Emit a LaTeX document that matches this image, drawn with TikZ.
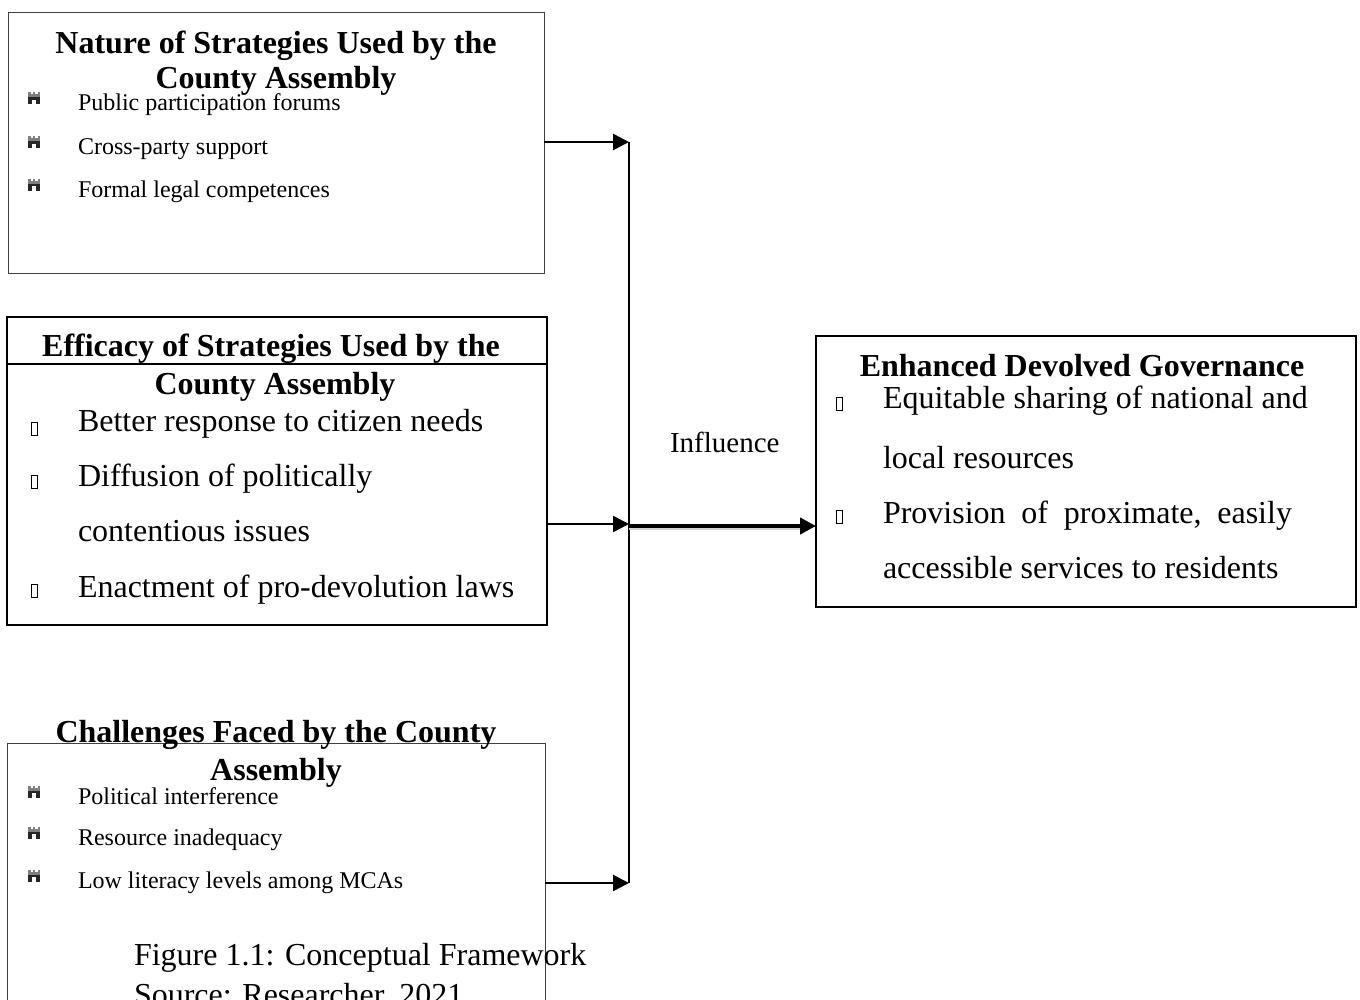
\documentclass[tikz,border=0pt]{standalone}
\usepackage{fontspec}
\setmainfont{Liberation Serif}
\usetikzlibrary{arrows.meta}
\newcommand\ttl{\fontsize{32}{36}\selectfont\bfseries}
\newcommand\bigtxt{\fontsize{32}{36}\selectfont}
\newcommand\smalltxt{\fontsize{24}{28}\selectfont}
\tikzset{
  thinbox/.style={draw=black!75, line width=1pt, inner sep=0pt, outer sep=0pt, anchor=north west},
  thickbox/.style={draw=black, line width=2pt, inner sep=0pt, outer sep=0pt, anchor=north west},
  txt/.style={anchor=base west, inner sep=0pt, outer sep=0pt},
  ctitle/.style={anchor=base, inner sep=0pt, outer sep=0pt, font=\ttl},
  arr/.style={line width=2.5pt, -{Triangle[length=16pt,width=16pt]}},
  bigarr/.style={line width=4pt, -{Triangle[length=16pt,width=16pt]}},
  vline/.style={line width=1.5pt},
  glyphbox/.style={draw=black, line width=0.7pt},
  shadowline/.style={line width=3pt, black!18},
  icon/.pic={
    \fill[black!50] (0,-10) rectangle (12,-7);
    \fill[black!50] (0,-12) rectangle (2.5,-10);
    \fill[black!50] (4.75,-12) rectangle (7.25,-10);
    \fill[black!50] (9.5,-12) rectangle (12,-10);
    \fill[black!85] (0,-7) rectangle (12,0);
    \fill[white] (4,-4.5) rectangle (8,0);
  }
}
\begin{document}
\begin{tikzpicture}[x=1pt,y=-1pt]
\clip (0,0) rectangle (1360,999);
\fill[white] (0,0) rectangle (1360,999);

% ---------- boxes ----------
\node[thinbox, minimum width=536pt, minimum height=261pt] (b1) at (8,12) {};
\node[thickbox, minimum width=540pt, minimum height=308pt] (b2) at (7,317) {};
\node[thinbox, minimum width=538pt, minimum height=300pt] (b3) at (7,743) {};
\node[thickbox, minimum width=540pt, minimum height=271pt] (b4) at (816,336) {};
\draw[line width=2pt] (b2.west |- 0,364) coordinate (s1) -- (b2.east |- s1);

% ---------- top box ----------
\node[ctitle] (t1a) at (276,53.5) {Nature of Strategies Used by the};
\node[ctitle] (t1b) at (276,88) {County Assembly};
\pic at (28,104) {icon};
\node[txt, font=\smalltxt] (i11) at (78,110.5) {Public participation forums};
\pic at (28,148) {icon};
\node[txt, font=\smalltxt] (i12) at (78,154.5) {Cross-party support};
\pic at (28,190.5) {icon};
\node[txt, font=\smalltxt] (i13) at (78,197) {Formal legal competences};

% ---------- middle box ----------
\node[ctitle] (t2a) at (271,356) {Efficacy of Strategies Used by the};
\node[ctitle] (t2b) at (275,394) {County Assembly};
\draw[glyphbox] (31.5,422.5) rectangle (37,435.5);
\node[txt, font=\bigtxt] (i21) at (78,431.7) {Better response to citizen needs};
\draw[glyphbox] (31.5,475) rectangle (37,488);
\node[txt, font=\bigtxt] (i22) at (78,486.7) {Diffusion of politically};
\node[txt, font=\bigtxt] (i23) at (78,541.7) {contentious issues};
\draw[glyphbox] (31.5,584) rectangle (37,597);
\node[txt, font=\bigtxt] (i24) at (78,597) {Enactment of pro-devolution laws};

% ---------- bottom box ----------
\node[ctitle] (t3a) at (276,742.5) {Challenges Faced by the County};
\node[ctitle] (t3b) at (276,780) {Assembly};
\pic at (28,797.5) {icon};
\node[txt, font=\smalltxt] (i31) at (78,804) {Political interference};
\pic at (28,838.5) {icon};
\node[txt, font=\smalltxt] (i32) at (78,845) {Resource inadequacy};
\pic at (28,881.5) {icon};
\node[txt, font=\smalltxt] (i33) at (78,888) {Low literacy levels among MCAs};
\node[txt, font=\bigtxt] (cap1) at (134,965) {Figure 1.1: Conceptual Framework};
\node[txt, font=\bigtxt] (cap2) at (134,1005) {Source: Researcher, 2021};

% ---------- right box ----------
\node[ctitle] (t4) at (1082,376) {Enhanced Devolved Governance};
\draw[glyphbox] (836,397) rectangle (842,410);
\node[txt, font=\bigtxt] (i41) at (883,408) {Equitable sharing of national and};
\node[txt, font=\bigtxt] (i42) at (883,468) {local resources};
\draw[glyphbox] (836,510) rectangle (842,523);
\node[txt, font=\bigtxt] (i43) at (883,523) {\hbox to 409pt{Provision\hfill of\hfill proximate,\hfill easily}};
\node[txt, font=\bigtxt] (i44) at (883,578) {accessible services to residents};

% ---------- connectors ----------
\coordinate (j1) at (629,142);
\coordinate (j2) at (629,524);
\coordinate (j3) at (629,883);
\coordinate (jm) at (629,526);
\draw[vline] (j1) -- (j3);
\draw[arr] (b1.east |- j1) -- (j1);
\draw[arr] (b2.east |- j2) -- (j2);
\draw[arr] (b3.east |- j3) -- (j3);
\draw[shadowline] ([yshift=-2.5pt]jm) -- ([yshift=-2.5pt,xshift=-10pt]b4.west |- jm);
\draw[bigarr] (jm) -- (b4.west |- jm);
\node[txt, font=\fontsize{29}{33}\selectfont] (inf) at (670,452.7) {Influence};
\end{tikzpicture}
\end{document}
